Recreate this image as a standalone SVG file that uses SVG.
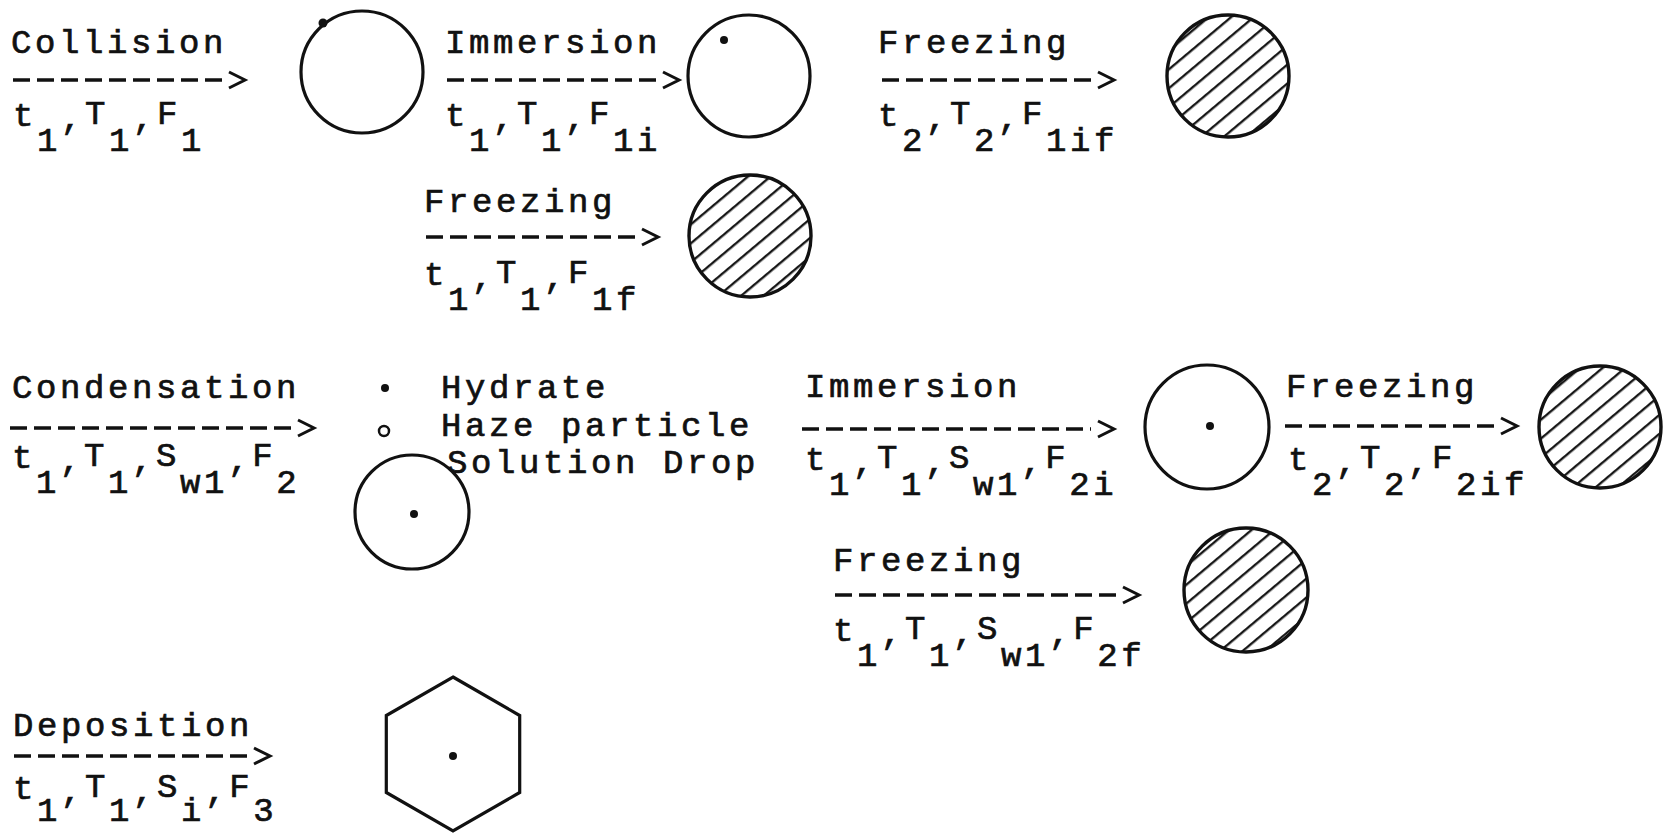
<svg xmlns="http://www.w3.org/2000/svg" width="1670" height="833" viewBox="0 0 1670 833">
<style>
.lbl{font-family:"Liberation Mono","DejaVu Sans Mono",monospace;font-size:34px;letter-spacing:3.6px;fill:#111;stroke:#111;stroke-width:0.7}
.conn{fill:none;stroke:#111;stroke-width:3.4;stroke-dasharray:17 7}
.shape{fill:#fff;stroke:#111;stroke-width:3.2}
.hatched{fill:url(#hatch);stroke:#111;stroke-width:3.4}
.dot{fill:#111}
</style>
<defs>
<marker id="chev" markerUnits="userSpaceOnUse" markerWidth="26" markerHeight="26" viewBox="0 0 26 26" refX="0" refY="13" orient="auto" overflow="visible">
<path d="M7,5 L23,13 L7,21" fill="none" stroke="#111" stroke-width="3"/>
</marker>
<pattern id="hatch" patternUnits="userSpaceOnUse" width="30" height="14.5" patternTransform="rotate(-40)">
<rect width="30" height="14.5" fill="#fff"/>
<line x1="-1" y1="7" x2="31" y2="7" stroke="#111" stroke-width="2.3"/>
</pattern>
</defs>
<rect width="1670" height="833" fill="#fff"/>

<g id="connectors">
<path class="conn" d="M13,80 H222" marker-end="url(#chev)"/>
<path class="conn" d="M447,80 H656" marker-end="url(#chev)"/>
<path class="conn" d="M882,80 H1091" marker-end="url(#chev)"/>
<path class="conn" d="M426,237 H635" marker-end="url(#chev)"/>
<path class="conn" d="M10,428 H291" marker-end="url(#chev)"/>
<path class="conn" d="M802,429 H1091" marker-end="url(#chev)"/>
<path class="conn" d="M1285,426 H1494" marker-end="url(#chev)"/>
<path class="conn" d="M835,595 H1116" marker-end="url(#chev)"/>
<path class="conn" d="M14,756 H247" marker-end="url(#chev)"/>
</g>

<g id="edge-collision">
<text class="lbl" x="11" y="53">Collision</text>
<text class="lbl" x="13" y="126">t<tspan dy="25">1</tspan><tspan dy="-22">,</tspan><tspan dy="-5">T</tspan><tspan dy="27">1</tspan><tspan dy="-22">,</tspan><tspan dy="-5">F</tspan><tspan dy="27">1</tspan></text>
</g>
<g id="edge-immersion-1">
<text class="lbl" x="445" y="53">Immersion</text>
<text class="lbl" x="445" y="126">t<tspan dy="25">1</tspan><tspan dy="-22">,</tspan><tspan dy="-5">T</tspan><tspan dy="27">1</tspan><tspan dy="-22">,</tspan><tspan dy="-5">F</tspan><tspan dy="27">1i</tspan></text>
</g>
<g id="edge-freezing-1">
<text class="lbl" x="878" y="53">Freezing</text>
<text class="lbl" x="878" y="126">t<tspan dy="25">2</tspan><tspan dy="-22">,</tspan><tspan dy="-5">T</tspan><tspan dy="27">2</tspan><tspan dy="-22">,</tspan><tspan dy="-5">F</tspan><tspan dy="27">1if</tspan></text>
</g>
<g id="edge-freezing-1b">
<text class="lbl" x="424" y="212">Freezing</text>
<text class="lbl" x="424" y="285">t<tspan dy="25">1</tspan><tspan dy="-22">,</tspan><tspan dy="-5">T</tspan><tspan dy="27">1</tspan><tspan dy="-22">,</tspan><tspan dy="-5">F</tspan><tspan dy="27">1f</tspan></text>
</g>
<g id="edge-condensation">
<text class="lbl" x="12" y="398">Condensation</text>
<text class="lbl" x="12" y="468">t<tspan dy="25">1</tspan><tspan dy="-22">,</tspan><tspan dy="-5">T</tspan><tspan dy="27">1</tspan><tspan dy="-22">,</tspan><tspan dy="-5">S</tspan><tspan dy="27">w1</tspan><tspan dy="-22">,</tspan><tspan dy="-5">F</tspan><tspan dy="27">2</tspan></text>
</g>
<g id="edge-immersion-2">
<text class="lbl" x="805" y="397">Immersion</text>
<text class="lbl" x="805" y="470">t<tspan dy="25">1</tspan><tspan dy="-22">,</tspan><tspan dy="-5">T</tspan><tspan dy="27">1</tspan><tspan dy="-22">,</tspan><tspan dy="-5">S</tspan><tspan dy="27">w1</tspan><tspan dy="-22">,</tspan><tspan dy="-5">F</tspan><tspan dy="27">2i</tspan></text>
</g>
<g id="edge-freezing-2">
<text class="lbl" x="1286" y="397">Freezing</text>
<text class="lbl" x="1288" y="470">t<tspan dy="25">2</tspan><tspan dy="-22">,</tspan><tspan dy="-5">T</tspan><tspan dy="27">2</tspan><tspan dy="-22">,</tspan><tspan dy="-5">F</tspan><tspan dy="27">2if</tspan></text>
</g>
<g id="edge-freezing-2b">
<text class="lbl" x="833" y="571">Freezing</text>
<text class="lbl" x="833" y="641">t<tspan dy="25">1</tspan><tspan dy="-22">,</tspan><tspan dy="-5">T</tspan><tspan dy="27">1</tspan><tspan dy="-22">,</tspan><tspan dy="-5">S</tspan><tspan dy="27">w1</tspan><tspan dy="-22">,</tspan><tspan dy="-5">F</tspan><tspan dy="27">2f</tspan></text>
</g>
<g id="edge-deposition">
<text class="lbl" x="13" y="736">Deposition</text>
<text class="lbl" x="13" y="799">t<tspan dy="22">1</tspan><tspan dy="-19">,</tspan><tspan dy="-5">T</tspan><tspan dy="24">1</tspan><tspan dy="-19">,</tspan><tspan dy="-5">S</tspan><tspan dy="24">i</tspan><tspan dy="-19">,</tspan><tspan dy="-5">F</tspan><tspan dy="24">3</tspan></text>
</g>

<g id="legend">
<circle class="dot" cx="385" cy="388" r="4"/>
<circle cx="384" cy="431" r="5" fill="none" stroke="#111" stroke-width="2.5"/>
<text class="lbl" x="441" y="398">Hydrate</text>
<text class="lbl" x="441" y="436">Haze particle</text>
<text class="lbl" x="447" y="473">Solution Drop</text>
</g>

<g id="node-collided">
<circle class="shape" cx="362" cy="72" r="61"/>
<circle class="dot" cx="323" cy="23" r="4.5"/>
</g>
<g id="node-immersed-1">
<circle class="shape" cx="749" cy="76" r="61"/>
<circle class="dot" cx="724" cy="40" r="4"/>
</g>
<g id="node-frozen-1if">
<circle class="hatched" cx="1228" cy="76" r="61"/>
</g>
<g id="node-frozen-1f">
<circle class="hatched" cx="750" cy="236" r="61"/>
</g>
<g id="node-solution-drop">
<circle class="shape" cx="412" cy="512" r="57"/>
<circle class="dot" cx="414" cy="514" r="4"/>
</g>
<g id="node-immersed-2">
<circle class="shape" cx="1207" cy="427" r="62"/>
<circle class="dot" cx="1210" cy="426" r="4"/>
</g>
<g id="node-frozen-2if">
<circle class="hatched" cx="1600" cy="427" r="61"/>
</g>
<g id="node-frozen-2f">
<circle class="hatched" cx="1246" cy="590" r="62"/>
</g>
<g id="node-ice-crystal">
<polygon class="shape" points="453,677 519.7,715.5 519.7,792.5 453,831 386.3,792.5 386.3,715.5"/>
<circle class="dot" cx="453" cy="756" r="4"/>
</g>
</svg>
